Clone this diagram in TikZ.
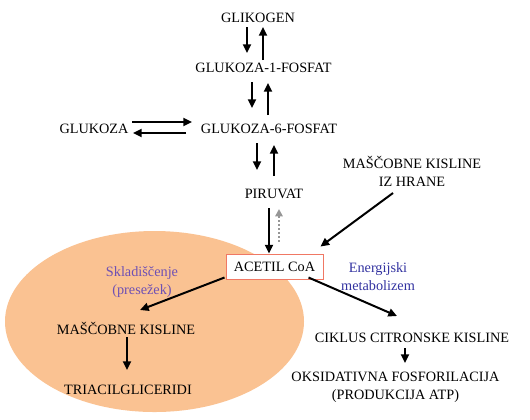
\documentclass[tikz,border=0pt]{standalone}
\usepackage{fontspec}
\setmainfont{Liberation Serif}
\usetikzlibrary{arrows.meta,calc}
\definecolor{peach}{RGB}{250,194,146}
\definecolor{boxred}{RGB}{240,120,100}
\definecolor{sklcol}{RGB}{110,80,180}
\definecolor{enecol}{RGB}{50,50,160}
\definecolor{dotgray}{RGB}{150,150,150}
\begin{document}
\begin{tikzpicture}[x=0.75pt,y=-0.75pt,
  lbl/.style={inner sep=0pt,font=\fontsize{10.7}{13.5}\selectfont,align=center},
  arr/.style={line width=1.5pt,-{Triangle[length=6.5pt,width=6pt]}},
  dotarr/.style={draw=dotgray,line width=2pt,dash pattern=on 1.5pt off 1.5pt,-{Triangle[length=5.5pt,width=5.5pt]},dotgray},
  acbox/.style={draw=boxred,line width=0.75pt,fill=white,minimum width=72.75pt,minimum height=18.75pt,inner sep=0pt,font=\fontsize{10.7}{13.5}\selectfont}]
\useasboundingbox (0,0) rectangle (530,419);
\fill[peach] (154.5,321.5) ellipse [x radius=149.5, y radius=90.5];

\node[lbl] (gliko) at (258,18) {GLIKOGEN};
\node[lbl] (g1p) at (263.5,68) {GLUKOZA-1-FOSFAT};
\node[lbl] (g6p) at (269,129) {GLUKOZA-6-FOSFAT};
\node[lbl] (gluk) at (94,129) {GLUKOZA};
\node[lbl] (piru) at (274,194) {PIRUVAT};
\node[lbl] (hrana) at (412,171) {MAŠČOBNE KISLINE\\IZ HRANE};
\node[acbox] (acetil) at (274.5,266.5) {ACETIL CoA};
\node[lbl,text=sklcol] (skl) at (142,282) {Skladiščenje\\(presežek)};
\node[lbl,text=enecol] (ener) at (378,276.5) {Energijski\\metabolizem};
\node[lbl] (mk) at (126,328) {MAŠČOBNE KISLINE};
\node[lbl] (tag) at (128,390) {TRIACILGLICERIDI};
\node[lbl] (cikl) at (412,338) {CIKLUS CITRONSKE KISLINE};
\node[lbl] (oks) at (395.5,387.5) {OKSIDATIVNA FOSFORILACIJA\\(PRODUKCIJA ATP)};

\draw[arr] ($(gliko)+(-11,9)$) -- ($(g1p)+(-16.5,-15)$);
\draw[arr] ($(g1p)+(-0.5,-8)$) -- ($(gliko)+(5,9)$);
\draw[arr] ($(g1p)+(-11.5,14)$) -- ($(g6p)+(-17,-21)$);
\draw[arr] ($(g6p)+(-1,-14)$) -- ($(g1p)+(4.5,15)$);
\draw[arr] ($(gluk)+(38,-7)$) -- ($(g6p)+(-77,-7)$);
\draw[arr] ($(g6p)+(-83,4)$) -- ($(gluk)+(39,4)$);
\draw[arr] ($(g6p)+(-12,14)$) -- ($(piru)+(-17,-24)$);
\draw[arr] ($(piru)+(0,-18)$) -- ($(g6p)+(5,16)$);
\draw[arr] ($(piru)+(-5,14)$) -- ($(acetil.north)+(-5.5,0)$);
\draw[dotarr] ($(acetil.north)+(4.5,-12)$) -- ($(piru)+(5,15)$);
\draw[arr] ($(hrana)+(-19,22)$) -- ($(acetil.north east)+(-3,-7)$);
\draw[arr] ($(acetil.south west)+(-1,-2)$) -- ($(mk)+(14,-18)$);
\draw[arr] ($(acetil.south east)+(-15,-2)$) -- ($(cikl)+(-15,-22)$);
\draw[arr] ($(mk)+(1,9)$) -- ($(tag)+(-1,-20)$);
\draw[arr] ($(cikl)+(-7,10)$) -- ($(oks)+(9.5,-24.5)$);
\end{tikzpicture}
\end{document}
